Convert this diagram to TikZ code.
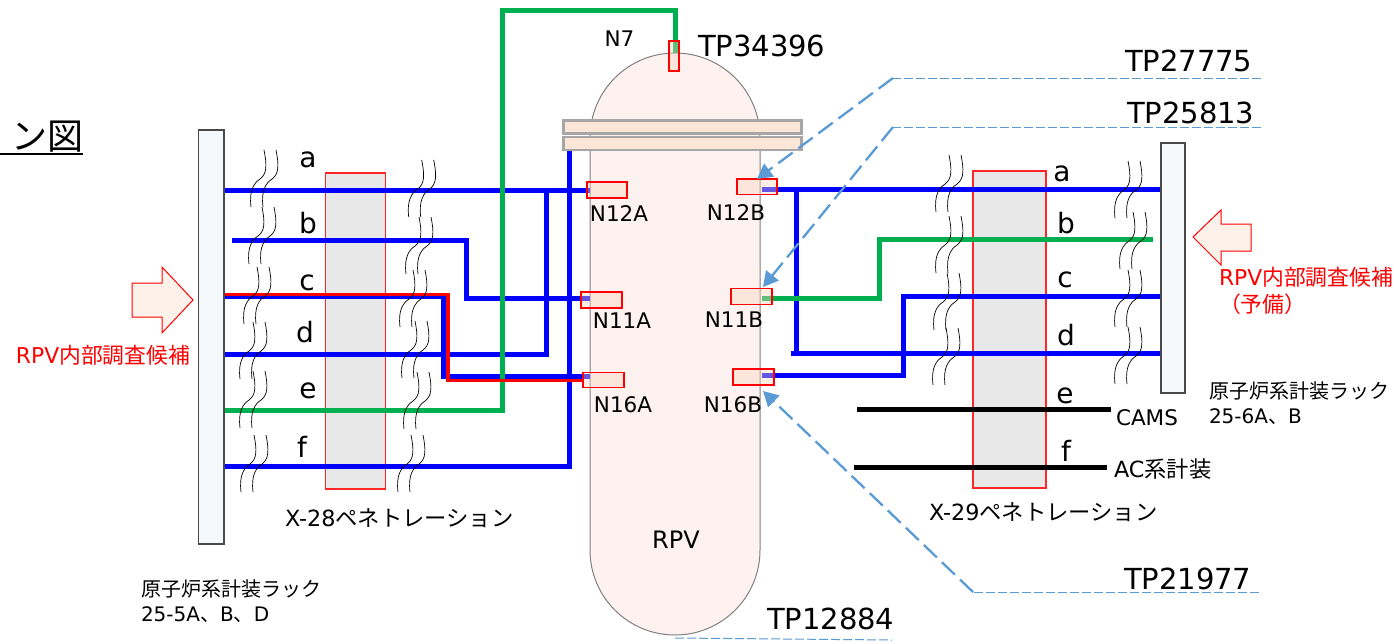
\documentclass[tikz,border=0pt]{standalone}
\usepackage{fontspec}
\setmainfont{DejaVu Sans}
\newfontfamily\jp{Noto Sans CJK JP}
\usetikzlibrary{arrows.meta}
\definecolor{wblue}{HTML}{0000FF}
\definecolor{wgreen}{HTML}{00B050}
\definecolor{lead}{HTML}{5B9BD5}
\definecolor{rackfill}{HTML}{F5F9FC}
\definecolor{rackline}{HTML}{4A4A4A}
\definecolor{penfill}{HTML}{E8E8E8}
\definecolor{vesselfill}{HTML}{FEF2F1}
\definecolor{flangefill}{HTML}{FBE5D6}
\definecolor{nozfill}{HTML}{FBD5BD}
\definecolor{blockfill}{HTML}{FDF1E9}
\tikzset{
  x=1pt,y=-1pt,
  txt/.style={inner sep=0pt,outer sep=0pt,anchor=base,text=black},
  txtw/.style={inner sep=0pt,outer sep=0pt,anchor=base west,text=black},
  tp/.style={txtw,font=\fontsize{29}{31}\selectfont},
  lett/.style={txt,font=\fontsize{28}{30}\selectfont},
  nlab/.style={txt,font=\fontsize{21.5}{24}\selectfont},
  small/.style={txtw,font=\fontsize{21.5}{24}\selectfont},
  pene/.style={txtw,font=\fontsize{22.3}{24}\selectfont},
  racklab/.style={txtw,font=\fontsize{20}{24}\selectfont},
  redlab/.style={txtw,text=red,font=\fontsize{21.8}{24}\selectfont},
  rack/.style={draw=rackline,fill=rackfill,line width=1.4pt,inner sep=0pt,outer sep=0pt},
  pen/.style={draw=red!85!white,fill=penfill,line width=1.2pt,inner sep=0pt,outer sep=0pt},
  noz/.style={draw=red,fill=nozfill,fill opacity=.4,line width=1.3pt,inner sep=0pt,outer sep=0pt},
  flange/.style={draw=black!35,fill=flangefill,line width=2.5pt,inner sep=0pt,outer sep=0pt},
  bw/.style={draw=wblue,line width=5pt,line join=miter},
  gw/.style={draw=wgreen,line width=5pt,line join=miter},
  rw/.style={draw=red,line width=3.5pt,line join=miter},
  kw/.style={draw=black,line width=5pt},
  wavy/.style={draw=black,line width=.7pt},
  leadthick/.style={draw=lead,line width=2.3pt,dash pattern=on 18pt off 7pt,-{Triangle[length=15pt,width=16pt]}},
  leadthin/.style={draw=lead,line width=1pt,dash pattern=on 9pt off 3pt},
  block/.style={draw=red,fill=blockfill,line width=1pt},
  brk/.pic={
    \foreach \dx in {0,12}{
      \draw[wavy] (\dx,0) .. controls (\dx+3,15) and (\dx+3,24) .. (\dx-4,29)
         .. controls (\dx-10,33) and (\dx-15,40) .. (\dx-13,57);
    }
  }
}
\begin{document}
\begin{tikzpicture}
\useasboundingbox (0,0) rectangle (1394,643);
\fill[white] (0,0) rectangle (1394,643);
% title fragment
\node[txt,anchor=base east,font=\jp\fontsize{36}{38}\selectfont] (title) at (84,149) {ン図};
\coordinate (ul1) at (0,154); \coordinate (ul2) at (83,154);
\draw[black,line width=1.6pt] (ul1) -- (ul2);
% penetrations
\node[pen,minimum width=60pt,minimum height=316pt] (x28) at (355.5,331) {};
\node[pen,minimum width=73pt,minimum height=317pt] (x29) at (1009.5,329.5) {};
% vessel
\draw[draw=black!50,line width=1pt,fill=vesselfill] (590,138)
  .. controls (590,91) and (628,53) .. (675,53)
  .. controls (722,53) and (760,91) .. (760,138)
  -- (760,550)
  .. controls (760,597) and (722,635) .. (675,635)
  .. controls (628,635) and (590,597) .. (590,550) -- cycle;
% coordinates of wires
\coordinate (La) at (224,190); \coordinate (Lae) at (590,190);
\coordinate (Lb) at (232,240); \coordinate (Lb1) at (466,240); \coordinate (Lb2) at (466,298); \coordinate (Lbe) at (590,298);
\coordinate (Lc) at (218,296.7); \coordinate (Lc1) at (443,296.7); \coordinate (Lc2) at (443,376.5); \coordinate (Lce) at (590,376.5);
\coordinate (Ld) at (224,354.5); \coordinate (Ld1) at (546.5,354.5); \coordinate (Ld2) at (546.5,190);
\coordinate (Lf) at (224,466); \coordinate (Lf1) at (569,466); \coordinate (Lf2) at (569,150);
\coordinate (Le) at (224,410); \coordinate (Le1) at (502.5,410); \coordinate (Le2) at (502.5,10); \coordinate (Le3) at (675.5,10); \coordinate (Lee) at (675.5,53);
\coordinate (Lr) at (221,294.5); \coordinate (Lr1) at (448,294.5); \coordinate (Lr2) at (448,380.5); \coordinate (Lre) at (583,380.5);
\coordinate (Ra) at (1161,189.5); \coordinate (Rae) at (762,189.5);
\coordinate (Rd) at (1161,353); \coordinate (Rd0) at (791,353); \coordinate (Rd1) at (796.7,353); \coordinate (Rd2) at (796.7,189.5);
\coordinate (Rc) at (1168,296); \coordinate (Rc1) at (903.5,296); \coordinate (Rc2) at (903.5,375.7); \coordinate (Rce) at (762,375.7);
\coordinate (Rb) at (1153,239.4); \coordinate (Rb1) at (879,239.4); \coordinate (Rb2) at (879,298); \coordinate (Rbe) at (762,298);
\coordinate (Re) at (857,409.7); \coordinate (Re1) at (1111,409.7);
\coordinate (Rf) at (854,467.5); \coordinate (Rf1) at (1107,467.5);
% wires
\draw[bw] (La) -- (Lae);
\draw[bw] (Lb) -- (Lb1) -- (Lb2) -- (Lbe);
\draw[bw] (Lc) -- (Lc1) -- (Lc2) -- (Lce);
\draw[bw] (Ld) -- (Ld1) -- (Ld2);
\draw[bw] (Lf) -- (Lf1) -- (Lf2);
\draw[gw] (Le) -- (Le1) -- (Le2) -- (Le3) -- (Lee);
\draw[rw] (Lr) -- (Lr1) -- (Lr2) -- (Lre);
\draw[bw] (Ra) -- (Rae);
\draw[bw] (Rd) -- (Rd0);
\draw[bw] (Rd1) -- (Rd2);
\draw[bw] (Rc) -- (Rc1) -- (Rc2) -- (Rce);
\draw[gw] (Rb) -- (Rb1) -- (Rb2) -- (Rbe);
\draw[kw] (Re) -- (Re1);
\draw[kw] (Rf) -- (Rf1);
% flange
\node[flange,minimum width=238pt,minimum height=13pt] (fl1) at (682.5,127) {};
\node[flange,minimum width=238pt,minimum height=13pt] (fl2) at (682.5,143.5) {};
% nozzles
\node[noz,minimum width=10pt,minimum height=30pt] (n7) at (674,56) {};
\node[noz,minimum width=40pt,minimum height=16pt] (n12a) at (607,190) {};
\node[noz,minimum width=40pt,minimum height=15.5pt] (n12b) at (757,186.7) {};
\node[noz,minimum width=41pt,minimum height=16pt] (n11a) at (601.5,300) {};
\node[noz,minimum width=41pt,minimum height=16pt] (n11b) at (751.5,296.5) {};
\node[noz,minimum width=41pt,minimum height=15.5pt] (n16a) at (603.5,380) {};
\node[noz,minimum width=41pt,minimum height=16pt] (n16b) at (753.5,377) {};
% breaks
\foreach \p in {(264,150),(262,207),(257,267),(253,322),(253,371),(254,435),
  (421.7,160),(419,217),(413,270),(415,321),(417,372),(411,435),
  (949,155),(949,216),(947,273),(946,328),
  (1128,161),(1133,212),(1128,270),(1128,327)}
  {\pic at \p {brk};}
% racks
\node[rack,minimum width=25.5pt,minimum height=414pt] (rackL) at (211.3,337) {};
\node[rack,minimum width=24pt,minimum height=250pt] (rackR) at (1173,268) {};
% block arrows
\draw[block] (132,283) -- (162,283) -- (162,267) -- (193,300) -- (162,333) -- (162,317) -- (132,317) -- cycle;
\draw[block] (1251,224) -- (1221,224) -- (1221,210) -- (1193,237) -- (1221,265) -- (1221,251) -- (1251,251) -- cycle;
% leaders
\coordinate (t1a) at (1261,78); \coordinate (t1b) at (893,78);
\coordinate (t2a) at (1261,127); \coordinate (t2b) at (893,127);
\coordinate (t3a) at (1259,592); \coordinate (t3b) at (973,592);
\coordinate (t4a) at (675,638); \coordinate (t4b) at (892,640);
\draw[leadthin] (t1a) -- (t1b);
\draw[leadthin] (t2a) -- (t2b);
\draw[leadthin] (t3a) -- (t3b);
\draw[leadthin] (t4a) -- (t4b);
\coordinate (h1) at (757,179); \coordinate (h2) at (763,287); \coordinate (h3) at (763,391);
\draw[leadthick] (t1b) -- (h1);
\draw[leadthick] (t2b) -- (h2);
\draw[leadthick] (t3b) -- (h3);
% texts
\node[tp] (tp1) at (698,56) {TP34396};
\node[tp] (tp2) at (1125,71) {TP27775};
\node[tp] (tp3) at (1127,123) {TP25813};
\node[tp] (tp4) at (1124,589) {TP21977};
\node[tp] (tp5) at (767,629) {TP12884};
\node[nlab] (l7) at (619.5,46) {N7};
\node[nlab] (l12a) at (619,221) {N12A};
\node[nlab] (l12b) at (736,220) {N12B};
\node[nlab] (l11a) at (622,328) {N11A};
\node[nlab] (l11b) at (734,327) {N11B};
\node[nlab] (l16a) at (623,412) {N16A};
\node[nlab] (l16b) at (733,412) {N16B};
\node[txt,font=\fontsize{24}{26}\selectfont] (rpv) at (676,548) {RPV};
\node[lett] (la) at (308,167) {a};
\node[lett] (lb) at (308,233) {b};
\node[lett] (lc) at (307,290) {c};
\node[lett] (ld) at (305,342) {d};
\node[lett] (le) at (308,398) {e};
\node[lett] (lf) at (302,457) {f};
\node[lett] (ra) at (1062,181) {a};
\node[lett] (rb) at (1066,233) {b};
\node[lett] (rc) at (1065,287) {c};
\node[lett] (rd) at (1066,345) {d};
\node[lett] (re) at (1065,403) {e};
\node[lett] (rf) at (1066,461) {f};
\node[pene] (x28l) at (285,526) {X-28{\jp ペネトレーション}};
\node[pene] (x29l) at (929,520) {X-29{\jp ペネトレーション}};
\node[small] (cams) at (1116,425) {CAMS};
\node[pene] (ac) at (1114,477) {AC{\jp 系計装}};
\node[racklab] (r1a) at (1209,398) {{\jp 原子炉系計装ラック}};
\node[racklab] (r1b) at (1209,423) {25-6A{\jp 、}B};
\node[racklab] (r2a) at (141,596) {{\jp 原子炉系計装ラック}};
\node[racklab] (r2b) at (141,621) {25-5A{\jp 、}B{\jp 、}D};
\node[redlab] (c1) at (16,363) {RPV{\jp 内部調査候補}};
\node[redlab] (c2) at (1219,285) {RPV{\jp 内部調査候補}};
\node[redlab] (c3) at (1219,312) {{\jp （予備）}};
\end{tikzpicture}
\end{document}
